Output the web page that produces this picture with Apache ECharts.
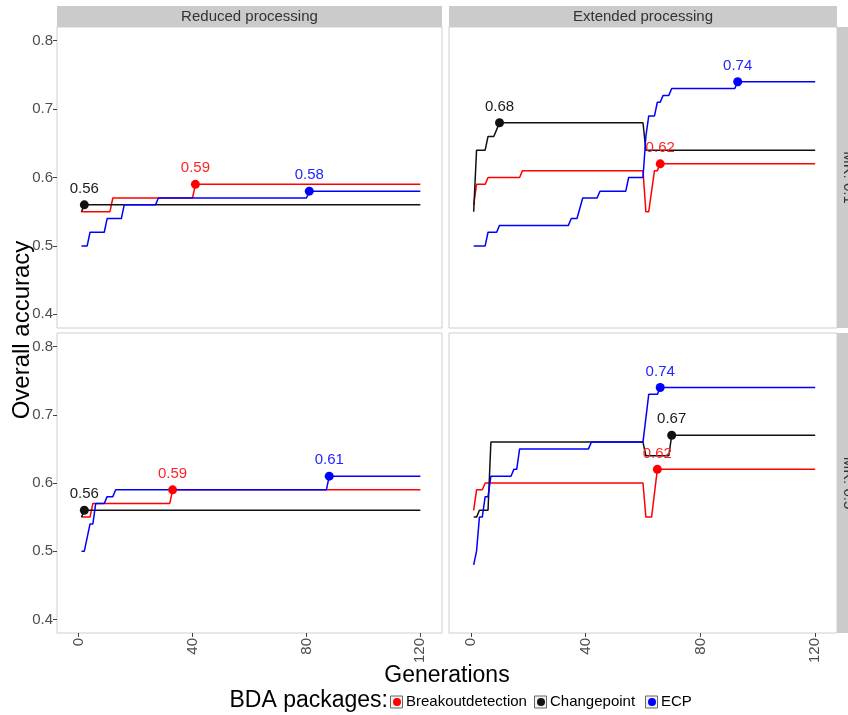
<!DOCTYPE html>
<html><head><meta charset="utf-8">
<script src="https://cdn.jsdelivr.net/npm/echarts@6/dist/echarts.min.js"></script>
<style>html,body{margin:0;padding:0;background:#fff}#c{width:848px;height:715px}</style>
</head><body><div id="c"></div>
<script>
// ---- labels ----
const colLabels = ['Reduced processing', 'Extended processing'];
const rowLabels = ['MR: 0.1', 'MR: 0.5'];
const seriesNames = ['Breakoutdetection', 'Changepoint', 'ECP'];
const genTicks = [0, 40, 80, 120];
const accTicks = [0.4, 0.5, 0.6, 0.7, 0.8];
const xTitle = 'Generations';
const yTitle = 'Overall accuracy';
const legendTitle = 'BDA packages:';

// ---- data: [generation, overall accuracy] ----
// Reduced processing, MR 0.1
const reduced01Breakout = [[1,0.55],[11,0.55],[12,0.57],[40,0.57],[41,0.59],[120,0.59]];
const reduced01Changepoint = [[1,0.55],[2,0.56],[120,0.56]];
const reduced01ECP = [[1,0.50],[3,0.50],[4,0.52],[9,0.52],[10,0.54],[15,0.54],[16,0.56],[27,0.56],[28,0.57],[80,0.57],[81,0.58],[120,0.58]];
// Extended processing, MR 0.1
const extended01Breakout = [[1,0.56],[2,0.59],[5,0.59],[6,0.60],[17,0.60],[18,0.61],[60,0.61],[61,0.55],[62,0.55],[64,0.61],[65,0.61],[66,0.62],[120,0.62]];
const extended01Changepoint = [[1,0.55],[2,0.64],[5,0.64],[6,0.66],[8,0.66],[9,0.67],[10,0.68],[60,0.68],[61,0.64],[120,0.64]];
const extended01ECP = [[1,0.50],[5,0.50],[6,0.52],[9,0.52],[10,0.53],[34,0.53],[35,0.54],[37,0.54],[39,0.57],[44,0.57],[45,0.58],[54,0.58],[55,0.60],[60,0.60],[61,0.66],[62,0.69],[64,0.69],[65,0.71],[66,0.71],[67,0.72],[69,0.72],[70,0.73],[92,0.73],[93,0.74],[120,0.74]];
// Reduced processing, MR 0.5
const reduced05Breakout = [[1,0.55],[4,0.55],[5,0.57],[32,0.57],[33,0.59],[120,0.59]];
const reduced05Changepoint = [[1,0.55],[2,0.56],[120,0.56]];
const reduced05ECP = [[1,0.50],[2,0.50],[4,0.54],[5,0.54],[6,0.57],[9,0.57],[10,0.58],[12,0.58],[13,0.59],[87,0.59],[88,0.61],[120,0.61]];
// Extended processing, MR 0.5
const extended05Breakout = [[1,0.56],[2,0.59],[4,0.59],[5,0.60],[60,0.60],[61,0.55],[63,0.55],[65,0.62],[120,0.62]];
const extended05Changepoint = [[1,0.55],[2,0.55],[3,0.56],[6,0.56],[7,0.66],[60,0.66],[61,0.64],[69,0.64],[70,0.67],[120,0.67]];
const extended05ECP = [[1,0.48],[2,0.50],[3,0.55],[4,0.55],[5,0.58],[6,0.58],[7,0.61],[14,0.61],[15,0.62],[16,0.62],[17,0.65],[41,0.65],[42,0.66],[60,0.66],[62,0.73],[65,0.73],[66,0.74],[120,0.74]];

// ---- layout & style ----
const FONT = "'Liberation Sans', Arial, sans-serif";
const lineColors = ['#ff0000', '#111111', '#0000ff'];
const textColors = ['#ff2424', '#1a1a1a', '#2424ff'];
const panelData = [
  [reduced01Breakout, reduced01Changepoint, reduced01ECP],
  [extended01Breakout, extended01Changepoint, extended01ECP],
  [reduced05Breakout, reduced05Changepoint, reduced05ECP],
  [extended05Breakout, extended05Changepoint, extended05ECP]
];
const gridRects = [
  {left: 57, top: 27, width: 385, height: 301},
  {left: 449, top: 27, width: 388, height: 301},
  {left: 57, top: 333, width: 385, height: 300},
  {left: 449, top: 333, width: 388, height: 300}
];
const X_MIN = -7.6, X_MAX = 127.6, Y_MIN = 0.38, Y_MAX = 0.82;

const grids = gridRects.map(r => Object.assign({show: true, borderColor: '#cfcfcf', borderWidth: 1, backgroundColor: '#fff', containLabel: false}, r));

const xAxes = gridRects.map((r, i) => {
  const bottom = i >= 2;
  return {
    gridIndex: i, type: 'value', min: X_MIN, max: X_MAX, position: 'bottom',
    axisLine: {show: false, onZero: false},
    axisTick: {show: bottom, length: 4, customValues: genTicks, lineStyle: {color: '#444'}},
    axisLabel: {show: bottom, customValues: genTicks, rotate: 90, margin: 5, fontSize: 15, color: '#4d4d4d', fontFamily: FONT},
    splitLine: {show: false}
  };
});
const yAxes = gridRects.map((r, i) => {
  const left = i % 2 === 0;
  return {
    gridIndex: i, type: 'value', min: Y_MIN, max: Y_MAX, position: 'left',
    axisLine: {show: false, onZero: false},
    axisTick: {show: left, length: 4, customValues: accTicks, lineStyle: {color: '#444'}},
    axisLabel: {show: left, customValues: accTicks, margin: 4, fontSize: 15, color: '#4d4d4d', fontFamily: FONT,
      formatter: v => Number(v).toFixed(1)},
    splitLine: {show: false}
  };
});

function bestPoint(data) {
  let best = data[0];
  data.forEach(p => { if (p[1] > best[1]) best = p; });
  return best;
}

const series = [];
panelData.forEach((trio, pi) => {
  trio.forEach((data, si) => {
    const bp = bestPoint(data);
    series.push({
      name: seriesNames[si], type: 'line', xAxisIndex: pi, yAxisIndex: pi,
      data: data, symbol: 'none', showSymbol: false, silent: true,
      lineStyle: {color: lineColors[si], width: 1.5},
      itemStyle: {color: lineColors[si]},
      z: 2 + si,
      markPoint: {
        symbol: 'circle', symbolSize: 9, silent: true,
        itemStyle: {color: lineColors[si]},
        label: {show: true, position: 'top', distance: 4, color: textColors[si], fontSize: 15, fontFamily: FONT,
          formatter: p => Number(p.value).toFixed(2)},
        data: [{coord: [bp[0], bp[1]], value: bp[1]}]
      }
    });
  });
});

const legendLefts = [393, 537, 648];
const legends = seriesNames.map((n, i) => ({
  data: [n], left: legendLefts[i], top: 694, orient: 'horizontal', icon: 'circle',
  itemWidth: 8, itemHeight: 8, itemGap: 0, padding: 0, selectedMode: false,
  textStyle: {fontSize: 15, color: '#000', fontFamily: FONT, lineHeight: 16}
}));

const graphics = [];
// top strips
[0, 1].forEach(c => {
  const r = gridRects[c];
  graphics.push({type: 'rect', shape: {x: r.left, y: 6, width: r.width, height: 21}, style: {fill: '#cbcbcb'}, silent: true});
  graphics.push({type: 'text', x: r.left + r.width / 2, y: 16.5, silent: true,
    style: {text: colLabels[c], fill: '#333', font: '15px ' + FONT, textAlign: 'center', textVerticalAlign: 'middle'}});
});
// right strips
[0, 1].forEach(rw => {
  const r = gridRects[rw * 2 + 1];
  graphics.push({type: 'rect', shape: {x: 837, y: r.top, width: 22, height: r.height}, style: {fill: '#cbcbcb'}, silent: true});
  graphics.push({type: 'text', x: 848, y: r.top + r.height / 2, rotation: -Math.PI / 2, silent: true,
    style: {text: rowLabels[rw], fill: '#333', font: '15px ' + FONT, textAlign: 'center', textVerticalAlign: 'middle'}});
});
// axis titles
graphics.push({type: 'text', x: 22, y: 330, rotation: Math.PI / 2, silent: true,
  style: {text: yTitle, fill: '#000', font: '24px ' + FONT, textAlign: 'center', textVerticalAlign: 'middle'}});
graphics.push({type: 'text', x: 447, y: 676, silent: true,
  style: {text: xTitle, fill: '#000', font: '23px ' + FONT, textAlign: 'center', textVerticalAlign: 'middle'}});
graphics.push({type: 'text', x: 388, y: 701, silent: true,
  style: {text: legendTitle, fill: '#000', font: '23px ' + FONT, textAlign: 'right', textVerticalAlign: 'middle'}});
// legend key boxes
legendLefts.forEach(l => {
  graphics.push({type: 'rect', z: -1, shape: {x: l - 2.5, y: 696, width: 12, height: 12},
    style: {fill: '#f2f2f2', stroke: '#666', lineWidth: 1}, silent: true});
});

const chart = echarts.init(document.getElementById('c'), null, {renderer: 'canvas'});
chart.setOption({
  animation: false,
  backgroundColor: '#fff',
  grid: grids, xAxis: xAxes, yAxis: yAxes,
  legend: legends,
  series: series,
  graphic: {elements: graphics}
});
</script></body></html>
